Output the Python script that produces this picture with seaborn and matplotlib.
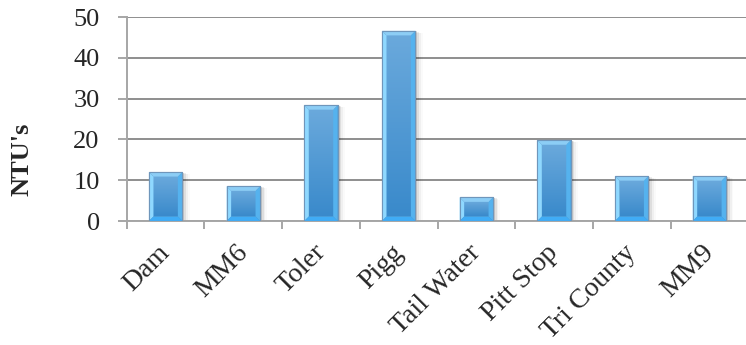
import numpy as np
import pandas as pd
import matplotlib
matplotlib.use("Agg")
import matplotlib.pyplot as plt
from matplotlib.patches import Polygon, Rectangle
from matplotlib.colors import LinearSegmentedColormap
from matplotlib.transforms import ScaledTranslation
import seaborn as sns

# Turbidity readings by sampling site
sites = ["Dam", "MM6", "Toler", "Pigg", "Tail Water", "Pitt Stop", "Tri County", "MM9"]
ntu = [12.0, 8.5, 28.4, 46.6, 5.8, 19.8, 11.0, 11.0]
y_ticks = [0, 10, 20, 30, 40, 50]

sns.set_theme(style="white")
plt.rcParams["font.family"] = ["Liberation Serif", "DejaVu Serif"]

fig = plt.figure(figsize=(7.46, 3.45), dpi=100)
ax = fig.add_axes([0.170, 0.3594, 0.833, 0.5913])

df = pd.DataFrame({"site": sites, "ntu": ntu})
sns.barplot(data=df, x="site", y="ntu", width=0.43, color="#3f8fce",
            edgecolor="#6f96bb", linewidth=0.8, ax=ax, zorder=3)

ax.set_xlim(-0.5, len(sites) - 0.5)
ax.set_ylim(0, 50)
ax.set_yticks(y_ticks)
ax.set_yticklabels([str(v) for v in y_ticks])

# grid and axes in Excel-like grey
grid_c = "#8e8e8e"
ax.set_axisbelow(True)
ax.yaxis.grid(True, color=grid_c, linewidth=1.4)
ax.xaxis.grid(False)
for s in ["top", "right"]:
    ax.spines[s].set_visible(False)
for s in ["left", "bottom"]:
    ax.spines[s].set_color("#a6a6a6")
    ax.spines[s].set_linewidth(1.4)

# category boundary ticks on the x axis
ax.set_xticks(np.arange(len(sites)))
ax.set_xticks(np.arange(len(sites) + 1) - 0.5, minor=True)
ax.tick_params(axis="x", which="major", length=0, pad=20)
ax.tick_params(axis="x", which="minor", length=6, width=1.4, color="#a6a6a6",
               direction="out", bottom=True)
ax.tick_params(axis="y", length=6.5, width=1.4, color="#a6a6a6", direction="out",
               left=True, pad=13, labelsize=19)
ax.set_xticklabels(sites, rotation=45, ha="right", va="center",
                   rotation_mode="anchor", fontsize=20)
shift = ScaledTranslation(0.5 / 72, 0, fig.dpi_scale_trans)
for lab in ax.get_xticklabels():
    lab.set_transform(lab.get_transform() + shift)
ax.set_xlabel("")
ax.set_ylabel("NTU's", fontsize=19, fontweight="bold", va="center")
ax.yaxis.set_label_coords(-0.169, 0.30)

# bevelled gradient shading on each bar
px_x = 77.6          # pixels per category
px_y = 4.07          # pixels per NTU unit
bx = 4.5 / px_x
by = 4.5 / px_y
face_cmap = LinearSegmentedColormap.from_list("face", ["#3a8acb", "#6aa9dc"])
grad = np.linspace(0, 1, 64).reshape(-1, 1)

for p in list(ax.patches):
    x0, w, h = p.get_x(), p.get_width(), p.get_height()
    x1 = x0 + w
    dyb = min(by, h / 3)
    # soft drop shadow
    for k, a in enumerate([0.12, 0.07, 0.04, 0.02]):
        off = (k + 1) * 1.8
        ax.add_patch(Rectangle((x0 + off / px_x, 0), w, h - off / px_y * 0.3,
                               facecolor="#000000", alpha=a, linewidth=0, zorder=2))
    # face gradient, darker toward the base
    ax.imshow(grad, cmap=face_cmap, origin="lower", aspect="auto",
              extent=(x0 + bx, x1 - bx, dyb, h - dyb), zorder=4,
              interpolation="bilinear")
    # bevel edges
    left = Polygon([(x0, 0), (x0 + bx, dyb), (x0 + bx, h - dyb), (x0, h)],
                   closed=True, facecolor="#8fd8ff", linewidth=0, zorder=4)
    right = Polygon([(x1, 0), (x1 - bx, dyb), (x1 - bx, h - dyb), (x1, h)],
                    closed=True, facecolor="#55b2ee", linewidth=0, zorder=4)
    top = Polygon([(x0, h), (x0 + bx, h - dyb), (x1 - bx, h - dyb), (x1, h)],
                  closed=True, facecolor="#8ccdf5", linewidth=0, zorder=4)
    bot = Polygon([(x0, 0), (x0 + bx, dyb), (x1 - bx, dyb), (x1, 0)],
                  closed=True, facecolor="#40acf6", linewidth=0, zorder=4)
    for poly in (left, right, top, bot):
        ax.add_patch(poly)
    ax.add_patch(Rectangle((x0, 0), w, h, facecolor="none",
                           edgecolor="#6f96bb", linewidth=0.8, zorder=5))

ax.set_xlim(-0.5, len(sites) - 0.5)
ax.set_ylim(0, 50)

fig.savefig("out.png", dpi=100)
